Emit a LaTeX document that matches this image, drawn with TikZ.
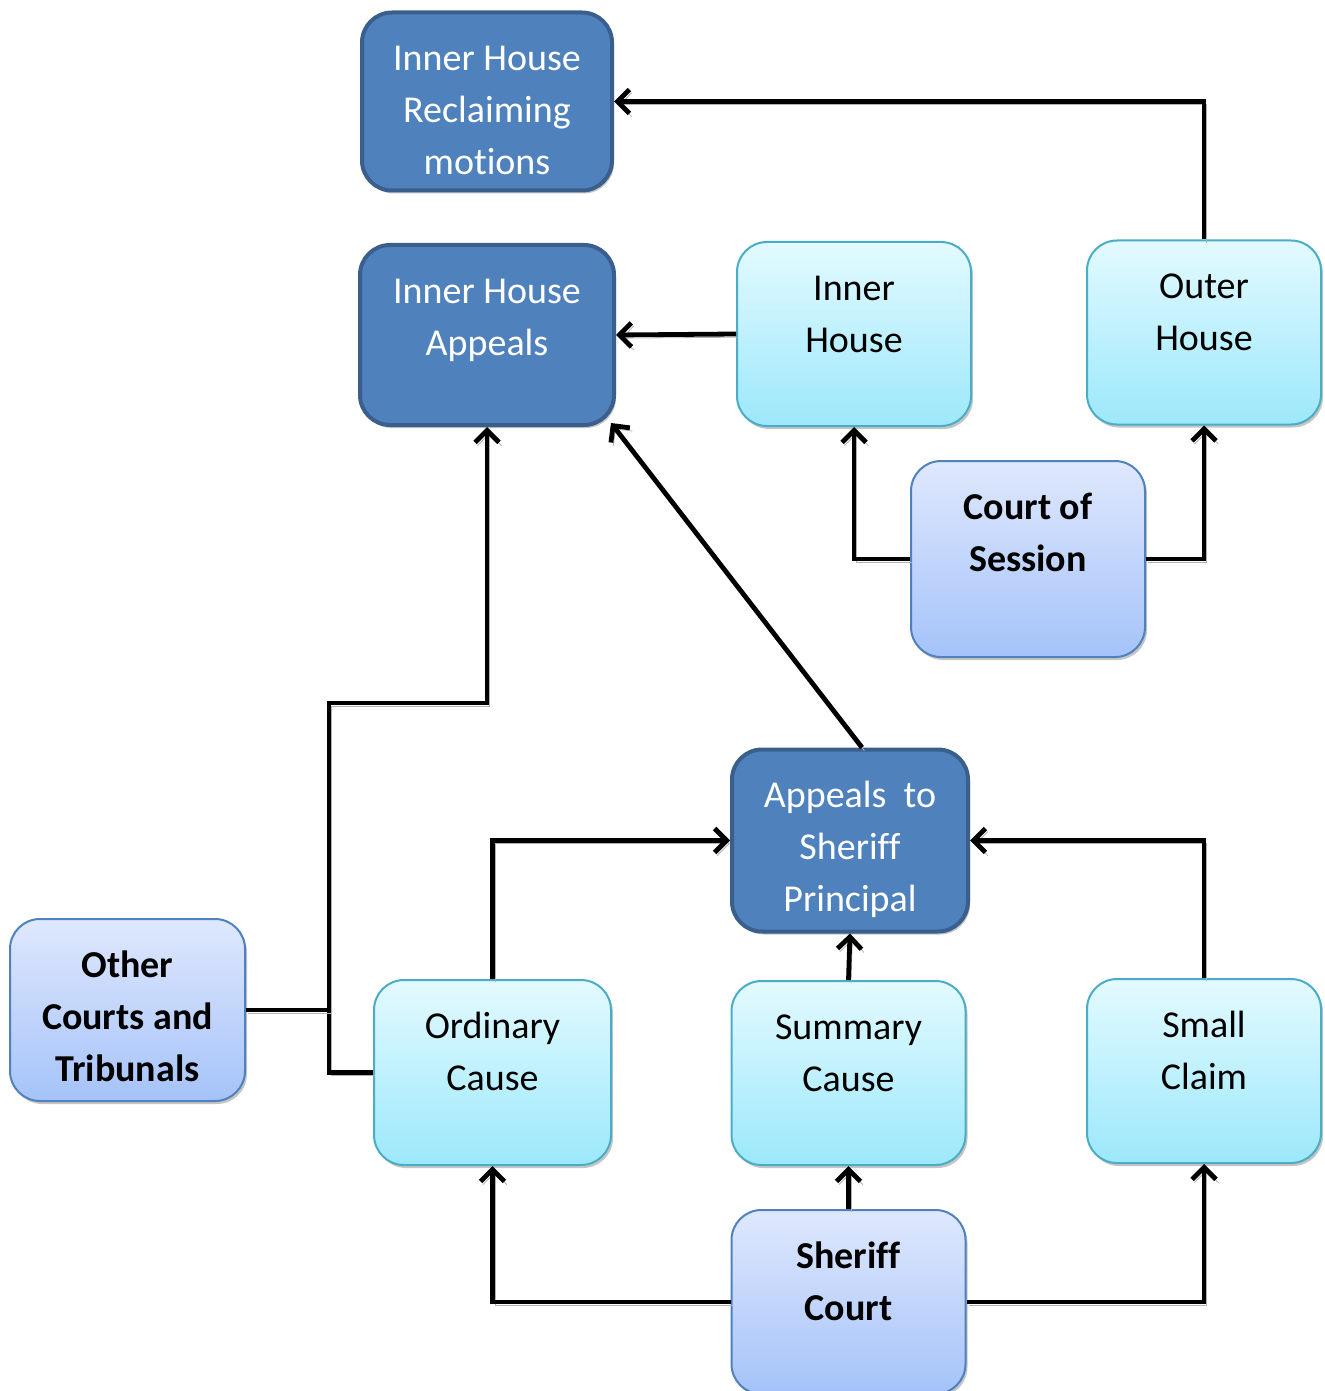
\documentclass[tikz,border=0pt]{standalone}
\usepackage{fontspec}
\setmainfont{Carlito}[Ligatures=NoCommon]
\usepackage{tikz}
\usetikzlibrary{arrows.meta, shadows}
\definecolor{darkfill}{HTML}{4F81BD}
\definecolor{darkline}{HTML}{3A5F8D}
\definecolor{cyantop}{HTML}{E3FAFF}
\definecolor{cyanbottom}{HTML}{9CE8FB}
\definecolor{cyanline}{HTML}{4BACC6}
\definecolor{bluetop}{HTML}{DFE8FD}
\definecolor{bluebottom}{HTML}{A5C3F9}
\definecolor{blueline}{HTML}{4F81BD}
\tikzset{
>={Straight Barb[length=6pt,width=12pt]},
  boxsize/.code 2 args={\def\boxw{#1}\def\boxh{#2}},
  court/.style={
    rounded corners=15pt,
    inner sep=0pt,
    font=\fontsize{19}{26}\selectfont,
    drop shadow={shadow xshift=1pt, shadow yshift=-1.5pt, fill=black!45, opacity=0.5},
    boxsize={117pt}{92pt},
    execute at begin node={\begin{minipage}[c][\boxh][t]{\boxw}\centering\rule{0pt}{29pt}},
    execute at end node={\end{minipage}}},
  darkbox/.style={court, fill=darkfill, draw=darkline, line width=2pt, text=white},
  cyanbox/.style={court, top color=cyantop, bottom color=cyanbottom, draw=cyanline, line width=1pt},
  bluebox/.style={court, top color=bluetop, bottom color=bluebottom, draw=blueline, line width=1pt,
    font=\fontsize{19}{26}\selectfont\bfseries},
  line/.style={draw, line width=2.4pt,
    preaction={draw=black!30, transform canvas={xshift=1.2pt, yshift=-1.6pt}}},
}
\begin{document}
\begin{tikzpicture}[x=0.5pt, y=-0.5pt]
     \useasboundingbox (0,0) rectangle (1325,1391);
     % Court of Session side
     \node[darkbox, boxsize={125pt}{89pt}] (InnerHouseReclaiming) at (487,101.5) {Inner House\\Reclaiming\\motions};
     \node[darkbox, boxsize={127pt}{90pt}] (InnerHouseAppeals) at (487,335) {Inner House\\Appeals};
     \node[cyanbox] (InnerHouse) at (854,334) {Inner\\House};
     \node[cyanbox] (OuterHouse) at (1204,332.5) {Outer\\House};
     \node[bluebox, boxsize={117pt}{98pt}] (CourtOfSession) at (1028,559) {Court of\\Session};
     % Sheriff Court side
     \node[darkbox, boxsize={118pt}{91pt}] (AppealsSheriff) at (850,840.5) {Appeals~ to\\Sheriff\\Principal};
     \node[bluebox, boxsize={117.5pt}{91pt}] (OtherCourts) at (127.5,1010) {Other\\Courts and\\Tribunals};
     \node[cyanbox, boxsize={118.5pt}{92.5pt}] (OrdinaryCause) at (492.5,1072.5) {Ordinary\\Cause};
     \node[cyanbox] (SummaryCause) at (848.5,1073) {Summary\\Cause};
     \node[cyanbox] (SmallClaim) at (1204,1071) {Small\\Claim};
     \node[bluebox] (SheriffCourt) at (848.5,1302) {Sheriff\\Court};
     \coordinate (Bend) at (329,703);

     \draw[line, ->] (OuterHouse.north) |- (InnerHouseReclaiming.east);
     \draw[line, ->] (InnerHouse.west) -- (InnerHouseAppeals.east);
     \draw[line, ->] (CourtOfSession.west) -| (InnerHouse.south);
     \draw[line, ->] (CourtOfSession.east) -| (OuterHouse.south);
     \draw[line, ->] ([xshift=6]AppealsSheriff.north) -- ([shift={(-5,-4)}]InnerHouseAppeals.south east);
     \draw[line, ->] (OrdinaryCause.west) -| (Bend) -| (InnerHouseAppeals.south);
     \draw[line] (OtherCourts.east) -- (OtherCourts.east -| Bend);
     \draw[line, ->] (OrdinaryCause.north) |- (AppealsSheriff.west);
     \draw[line, ->] (SmallClaim.north) |- (AppealsSheriff.east);
     \draw[line, ->] (SummaryCause.north) -- (AppealsSheriff.south);
     \draw[line, ->] (SheriffCourt.west) -| (OrdinaryCause.south);
     \draw[line, ->] (SheriffCourt.north) -- (SummaryCause.south);
     \draw[line, ->] (SheriffCourt.east) -| (SmallClaim.south);
\end{tikzpicture}
\end{document}
